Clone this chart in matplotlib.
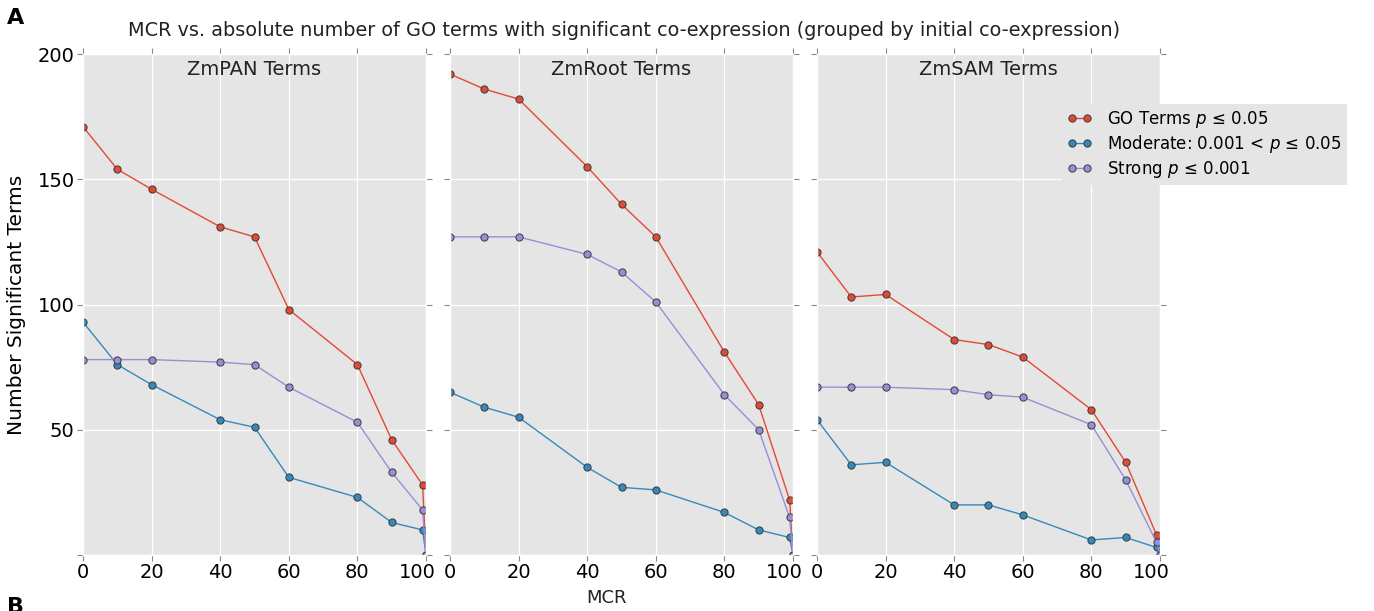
import matplotlib
matplotlib.use("Agg")
import matplotlib.pyplot as plt

plt.style.use("ggplot")
plt.rcParams['font.family'] = ['DejaVu Sans']

mcr = [0, 10, 20, 40, 50, 60, 80, 90, 99, 100]
panels = ["ZmPAN Terms", "ZmRoot Terms", "ZmSAM Terms"]

go_terms = [
    [171, 154, 146, 131, 127, 98, 76, 46, 28, 0],
    [192, 186, 182, 155, 140, 127, 81, 60, 22, 0],
    [121, 103, 104, 86, 84, 79, 58, 37, 8, 0],
]
moderate = [
    [93, 76, 68, 54, 51, 31, 23, 13, 10, 0],
    [65, 59, 55, 35, 27, 26, 17, 10, 7, 0],
    [54, 36, 37, 20, 20, 16, 6, 7, 3, 0],
]
strong = [
    [78, 78, 78, 77, 76, 67, 53, 33, 18, 0],
    [127, 127, 127, 120, 113, 101, 64, 50, 15, 0],
    [67, 67, 67, 66, 64, 63, 52, 30, 5, 0],
]
series_labels = [r"GO Terms $p$ ≤ 0.05",
                 r"Moderate: 0.001 < $p$ ≤ 0.05",
                 r"Strong $p$ ≤ 0.001"]
colors = ["#E24A33", "#348ABD", "#988ED5"]
xtick_vals = [0, 20, 40, 60, 80, 100]
ytick_vals = [0, 50, 100, 150, 200]
ytick_labels = ['', '50', '100', '150', '200']

W, H = 1374, 611
fig = plt.figure(figsize=(W / 100, H / 100), dpi=100)

lefts = [83, 450, 817]
pw = 343
bottom_px, top_px = 555, 54
axes = []
for i, name in enumerate(panels):
    ax = fig.add_axes([lefts[i] / W, 1 - bottom_px / H, pw / W, (bottom_px - top_px) / H])
    axes.append(ax)
    for vals, lab, c in zip([go_terms[i], moderate[i], strong[i]], series_labels, colors):
        ax.plot(mcr, vals, marker='o', color=c, lw=1.0, ms=5.2,
                mec='#3a3a3a', mew=0.7, label=lab)
    ax.set_xlim(0, 100)
    ax.set_ylim(0, 200)
    ax.set_xticks(xtick_vals)
    ax.set_xticklabels([str(v) for v in xtick_vals[:-1]] + [''])
    ax.set_yticks(ytick_vals)
    ax.set_facecolor('#E5E5E5')
    ax.grid(True, color='white', lw=0.9)
    ax.tick_params(axis='both', which='major', direction='out', length=4,
                   color='#888888', top=True, right=True, labelsize=14,
                   labelcolor='black', pad=2)
    # last x tick label sits slightly left of its tick, as in the reference
    ax.annotate(str(xtick_vals[-1]), xy=(xtick_vals[-1], 0),
                xycoords=('data', 'axes fraction'), xytext=(-6, -6),
                textcoords='offset points', ha='center', va='top',
                fontsize=14, color='black', annotation_clip=False)
    if i == 0:
        ax.set_yticklabels(ytick_labels)
        ax.set_ylabel("Number Significant Terms", fontsize=14.5, color='black', labelpad=8)
    else:
        ax.tick_params(labelleft=False)
    ax.text(0.5, 0.97, name, transform=ax.transAxes, ha='center', va='center',
            fontsize=14, color='#222222')

fig.text(624 / W, 1 - 31 / H,
         "MCR vs. absolute number of GO terms with significant co-expression (grouped by initial co-expression)",
         ha='center', va='center', fontsize=13.9, color='#222222')
fig.text(607 / W, 1 - 598 / H, "MCR", ha='center', va='center', fontsize=13, color='#222222')
fig.text(0.005, 1 - 18 / H, "A", ha='left', va='center', fontsize=16, fontweight='bold')
fig.text(0.005, 1 - 597 / H, "B", ha='left', va='top', fontsize=16, fontweight='bold')

handles, labels = axes[2].get_legend_handles_labels()
leg = fig.legend(handles, labels, loc='upper left', bbox_to_anchor=(1062 / W, 1 - 104 / H),
                 borderaxespad=0, fontsize=12, numpoints=2, frameon=True,
                 facecolor='#E5E5E5', edgecolor='none', framealpha=1.0,
                 borderpad=0.3, labelspacing=0.2, handlelength=1.5,
                 handletextpad=0.9, fancybox=False)

fig.savefig("out.png", dpi=100)
